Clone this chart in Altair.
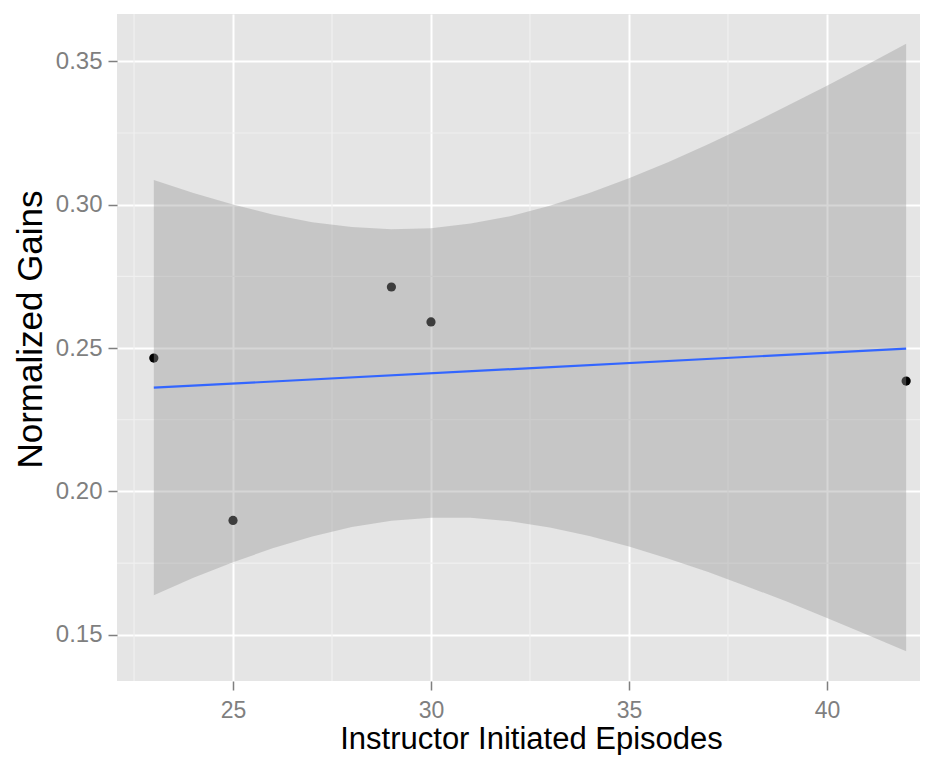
import altair as alt
import pandas as pd

# Observed points
episodes = [23, 25, 29, 30, 42]
gains = [0.2465, 0.1899, 0.2713, 0.2591, 0.2385]

# Confidence band
band_x = [23, 24, 25, 26, 27, 28, 29, 30, 31, 32, 33, 34, 35, 36, 37, 38, 39, 40, 41, 42]
band_lower = [0.1638, 0.1699, 0.1753, 0.1802, 0.1843, 0.1876, 0.1898, 0.1908, 0.1908, 0.1896,
              0.1874, 0.1845, 0.1808, 0.1765, 0.1719, 0.1668, 0.1615, 0.1559, 0.1501, 0.1443]
band_upper = [0.3086, 0.3041, 0.3001, 0.2966, 0.2939, 0.2922, 0.2914, 0.2918, 0.2934, 0.2960,
              0.2996, 0.3041, 0.3092, 0.3149, 0.3211, 0.3276, 0.3345, 0.3415, 0.3487, 0.3561]

# Axis ticks and minor grid positions
x_ticks = [25, 30, 35, 40]
y_ticks = [0.15, 0.20, 0.25, 0.30, 0.35]
minor_x = [22.5, 27.5, 32.5, 37.5, 42.5]
minor_y = [0.175, 0.225, 0.275, 0.325]

pts = pd.DataFrame({"x": episodes, "y": gains})
band = pd.DataFrame({"x": band_x, "lo": band_lower, "hi": band_upper})
mx = pd.DataFrame({"v": minor_x})
my = pd.DataFrame({"v": minor_y})

FONT = "Liberation Sans"
xscale = alt.Scale(domain=[22.07, 42.35], nice=False, zero=False)
yscale = alt.Scale(domain=[0.1339, 0.3665], nice=False, zero=False)

xaxis = alt.Axis(
    title="Instructor Initiated Episodes", values=x_ticks, format="d",
    domain=False, grid=True, gridColor="white", gridWidth=2,
    tickColor="#7F7F7F", tickSize=9, tickWidth=1.5,
    labelColor="#7F7F7F", labelFontSize=23, labelFont=FONT, labelPadding=9,
    titleFont=FONT, titleFontSize=31, titleFontWeight="normal", titleColor="black",
    titleX=414, titleY=67, titleBaseline="alphabetic", titleAnchor="middle",
)
yaxis = alt.Axis(
    title="Normalized Gains", values=y_ticks, format=".2f",
    domain=False, grid=True, gridColor="white", gridWidth=2,
    tickColor="#7F7F7F", tickSize=9, tickWidth=1.5,
    labelColor="#7F7F7F", labelFontSize=24, labelFont=FONT, labelPadding=6,
    titleFont=FONT, titleFontSize=35, titleFontWeight="normal", titleColor="black",
    titleX=-76, titleY=315, titleBaseline="alphabetic", titleAngle=-90,
)

minor_v = alt.Chart(mx).mark_rule(color="#F0F0F0", strokeWidth=1.2, clip=True).encode(
    x=alt.X("v:Q", scale=xscale, axis=xaxis)
)
minor_h = alt.Chart(my).mark_rule(color="#F0F0F0", strokeWidth=1.2, clip=True).encode(
    y=alt.Y("v:Q", scale=yscale, axis=yaxis)
)
points = alt.Chart(pts).mark_circle(size=85, color="black", opacity=1).encode(
    x=alt.X("x:Q", scale=xscale, axis=xaxis),
    y=alt.Y("y:Q", scale=yscale, axis=yaxis),
)
ribbon = alt.Chart(band).mark_area(color="#999999", opacity=0.4).encode(
    x=alt.X("x:Q", scale=xscale, axis=xaxis),
    y=alt.Y("lo:Q", scale=yscale, axis=yaxis),
    y2="hi:Q",
)
line = alt.Chart(pts).transform_regression("x", "y", extent=[23, 42]).mark_line(
    color="#3366FF", strokeWidth=2.2
).encode(
    x=alt.X("x:Q", scale=xscale, axis=xaxis),
    y=alt.Y("y:Q", scale=yscale, axis=yaxis),
)

chart = alt.layer(minor_v, minor_h, points, ribbon, line).properties(
    width=803, height=667,
    background="white",
    autosize=alt.AutoSizeParams(type="none"),
    padding={"left": 109, "top": 6, "right": 0, "bottom": 74},
).configure_view(fill="#E5E5E5", strokeWidth=0)

chart.save("out.html", embed_options={"renderer": "svg", "actions": False})
